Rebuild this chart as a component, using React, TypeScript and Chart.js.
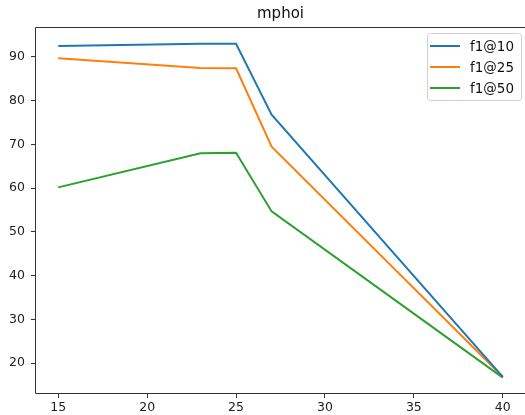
import { useEffect, useRef } from "react";
import { Chart, registerables } from "chart.js";

Chart.register(...registerables);

const titleText = "mphoi";
const xValues = [15, 23, 25, 27, 40];
const f1At10 = [92.5, 93.0, 93.0, 76.8, 16.9];
const f1At25 = [89.7, 87.5, 87.4, 69.5, 16.9];
const f1At50 = [60.2, 68.0, 68.1, 54.7, 16.7];
const seriesLabels = ["f1@10", "f1@25", "f1@50"];
const seriesColors = ["#1f77b4", "#ff7f0e", "#2ca02c"];
const xTicks = [15, 20, 25, 30, 35, 40];
const yTicks = [20, 30, 40, 50, 60, 70, 80, 90];

const FONT = "'DejaVu Sans', sans-serif";

const framePlugin = {
  id: "frame",
  afterDatasetsDraw(chart: any) {
    const { ctx, chartArea } = chart;
    ctx.save();
    ctx.strokeStyle = "#333";
    ctx.lineWidth = 1;
    const l = Math.round(chartArea.left) - 0.5;
    const t = Math.round(chartArea.top) + 0.5;
    const r = Math.round(chartArea.right) + 0.5;
    const b = Math.round(chartArea.bottom) + 0.5;
    ctx.beginPath();
    ctx.moveTo(r, t);
    ctx.lineTo(l, t);
    ctx.lineTo(l, b);
    ctx.lineTo(r, b);
    ctx.stroke();
    ctx.restore();
  },
};

const titlePlugin = {
  id: "mplTitle",
  afterDraw(chart: any) {
    const { ctx, chartArea } = chart;
    ctx.save();
    ctx.fillStyle = "#111";
    ctx.font = `15px ${FONT}`;
    ctx.textAlign = "center";
    ctx.textBaseline = "middle";
    ctx.fillText(titleText, (chartArea.left + chartArea.right) / 2, 14);
    ctx.restore();
  },
};

const legendPlugin = {
  id: "mplLegend",
  afterDraw(chart: any) {
    const { ctx } = chart;
    const bx = 427.5;
    const by = 33.5;
    const bw = 94;
    const bh = 67;
    ctx.save();
    ctx.fillStyle = "rgba(255,255,255,0.8)";
    ctx.strokeStyle = "#d0d0d0";
    ctx.lineWidth = 1;
    ctx.beginPath();
    ctx.roundRect(bx, by, bw, bh, 3);
    ctx.fill();
    ctx.stroke();
    ctx.font = `13.5px ${FONT}`;
    ctx.textBaseline = "middle";
    ctx.textAlign = "left";
    seriesLabels.forEach((label, i) => {
      const y = 46 + i * 21;
      ctx.strokeStyle = seriesColors[i];
      ctx.lineWidth = 2;
      ctx.beginPath();
      ctx.moveTo(430, y);
      ctx.lineTo(460, y);
      ctx.stroke();
      ctx.fillStyle = "#111";
      ctx.fillText(label, 470, y + 1);
    });
    ctx.restore();
  },
};

export default function App() {
  const ref = useRef<HTMLCanvasElement>(null);

  useEffect(() => {
    if (!ref.current) return;
    const seriesValues = [f1At10, f1At25, f1At50];
    const chart = new Chart(ref.current, {
      type: "line",
      data: {
        datasets: seriesValues.map((vals, i) => ({
          label: seriesLabels[i],
          data: vals.map((v, j) => ({ x: xValues[j], y: v })),
          borderColor: seriesColors[i],
          backgroundColor: seriesColors[i],
          borderWidth: 2,
          pointRadius: 0,
          pointHoverRadius: 0,
          tension: 0,
          fill: false,
        })),
      },
      options: {
        animation: false,
        responsive: false,
        devicePixelRatio: 1,
        layout: { autoPadding: false, padding: { top: 27, left: 0, right: 0, bottom: 0 } },
        plugins: {
          legend: { display: false },
          title: { display: false },
          tooltip: { enabled: false },
        },
        scales: {
          x: {
            type: "linear",
            min: 13.75,
            max: 41.25,
            afterBuildTicks: (scale: any) => {
              scale.ticks = xTicks.map((v) => ({ value: v }));
            },
            afterFit: (scale: any) => {
              scale.height = 22;
              scale.paddingLeft = 0;
              scale.paddingRight = 0;
            },
            border: { display: false },
            grid: {
              display: true,
              drawOnChartArea: false,
              drawTicks: true,
              tickLength: 5,
              color: "#333",
            },
            ticks: {
              padding: 2,
              color: "#222",
              font: { family: FONT, size: 12.5 },
              maxRotation: 0,
              callback: (v: any) => String(v),
            },
          },
          y: {
            type: "linear",
            min: 13.2,
            max: 96.85,
            afterBuildTicks: (scale: any) => {
              scale.ticks = yTicks.map((v) => ({ value: v }));
            },
            afterFit: (scale: any) => {
              scale.width = 36;
              scale.paddingTop = 0;
              scale.paddingBottom = 0;
            },
            border: { display: false },
            grid: {
              display: true,
              drawOnChartArea: false,
              drawTicks: true,
              tickLength: 5,
              color: "#333",
            },
            ticks: {
              padding: 6,
              color: "#222",
              font: { family: FONT, size: 12.5 },
              callback: (v: any) => String(v),
            },
          },
        },
      },
      plugins: [framePlugin, titlePlugin, legendPlugin],
    } as any);
    return () => chart.destroy();
  }, []);

  return (
    <div style={{ position: "fixed", left: 0, top: 0, width: 525, height: 415, background: "#fff" }}>
      <canvas ref={ref} width={525} height={415} style={{ width: 525, height: 415, display: "block" }} />
    </div>
  );
}
